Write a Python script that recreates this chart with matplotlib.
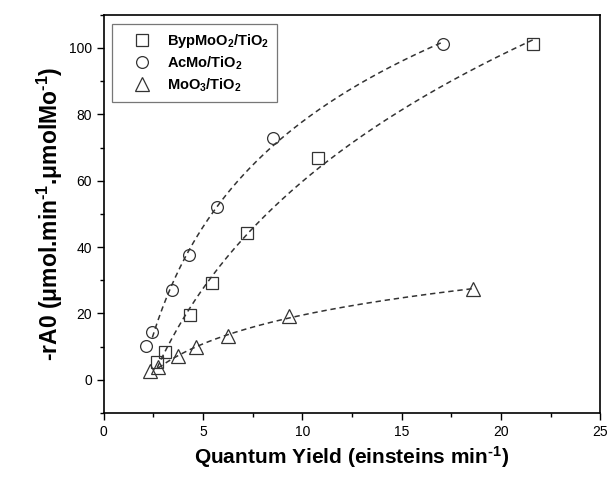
import numpy as np
import matplotlib
matplotlib.use("Agg")
import matplotlib.pyplot as plt
from matplotlib.ticker import MultipleLocator

plt.rcParams["font.family"] = ["Liberation Sans", "DejaVu Sans"]
plt.rcParams["mathtext.fontset"] = "custom"
plt.rcParams["mathtext.rm"] = "Liberation Sans:bold"
plt.rcParams["mathtext.it"] = "Liberation Sans:bold"
plt.rcParams["mathtext.bf"] = "Liberation Sans:bold"
plt.rcParams["mathtext.default"] = "bf"
plt.rcParams["axes.unicode_minus"] = False

# data
byp_x = [2.69, 3.1, 4.33, 5.43, 7.19, 10.8, 21.6]
byp_y = [5.5, 8.3, 19.5, 29.2, 44.2, 66.7, 101.3]
acmo_x = [2.15, 2.45, 3.44, 4.28, 5.71, 8.53, 17.1]
acmo_y = [10.1, 14.3, 27.0, 37.6, 52.2, 72.8, 101.1]
moo3_x = [2.35, 2.74, 3.75, 4.67, 6.27, 9.34, 18.6]
moo3_y = [2.8, 3.8, 7.1, 9.8, 13.3, 19.3, 27.3]

labels = ["BypMoO$_2$/TiO$_2$", "AcMo/TiO$_2$", "MoO$_3$/TiO$_2$"]
markers = ["s", "o", "^"]
series = [(byp_x, byp_y), (acmo_x, acmo_y), (moo3_x, moo3_y)]
fit_start = [0, 1, 1]

fig = plt.figure(figsize=(6.1, 4.78), dpi=100)
ax = fig.add_axes([0.170, 0.136, 0.814, 0.833])

for (x, y), m, lab, s in zip(series, markers, labels, fit_start):
    x = np.array(x)
    y = np.array(y)
    # smooth fit through the points (log-quadratic)
    c = np.polyfit(np.log(x[s:]), y[s:], 2)
    xf = np.linspace(x[s], x[-1], 200)
    ax.plot(xf, np.polyval(c, np.log(xf)), ls=(0, (3.5, 2.5)), color="#333333",
            lw=1.1, zorder=1)
    ax.plot(x, y, ls="none", marker=m, ms=10 if m == "^" else 8.5,
            mfc="none", mec="#333333", mew=0.9, label=lab, zorder=2)

ax.set_xlim(0, 25)
ax.set_ylim(-10, 110)
ax.xaxis.set_major_locator(MultipleLocator(5))
ax.xaxis.set_minor_locator(MultipleLocator(2.5))
ax.yaxis.set_major_locator(MultipleLocator(20))
ax.yaxis.set_minor_locator(MultipleLocator(10))
ax.tick_params(which="major", length=5, width=1, labelsize=10, direction="out")
ax.tick_params(which="minor", length=3, width=1, direction="out")
for sp in ax.spines.values():
    sp.set_linewidth(1.2)

ax.set_xlabel("Quantum Yield (einsteins min$^{\\text{-1}}$)", fontsize=15,
              fontweight="bold", labelpad=4)
ax.set_ylabel("-rA0 ($\\mu$mol.min$^{\\text{-1}}$.$\\mu$molMo$^{\\text{-1}}$)",
              fontsize=16.5, fontweight="bold", labelpad=3)

leg = ax.legend(loc="upper left", bbox_to_anchor=(0.016, 0.977), fontsize=10.5,
                frameon=True, fancybox=False, edgecolor="#555555",
                borderaxespad=0, handletextpad=0.25, borderpad=0.55,
                labelspacing=0.3, handlelength=3.0)
leg.get_frame().set_linewidth(0.9)
for t in leg.get_texts():
    t.set_fontweight("bold")

fig.savefig("out.png", dpi=100)
